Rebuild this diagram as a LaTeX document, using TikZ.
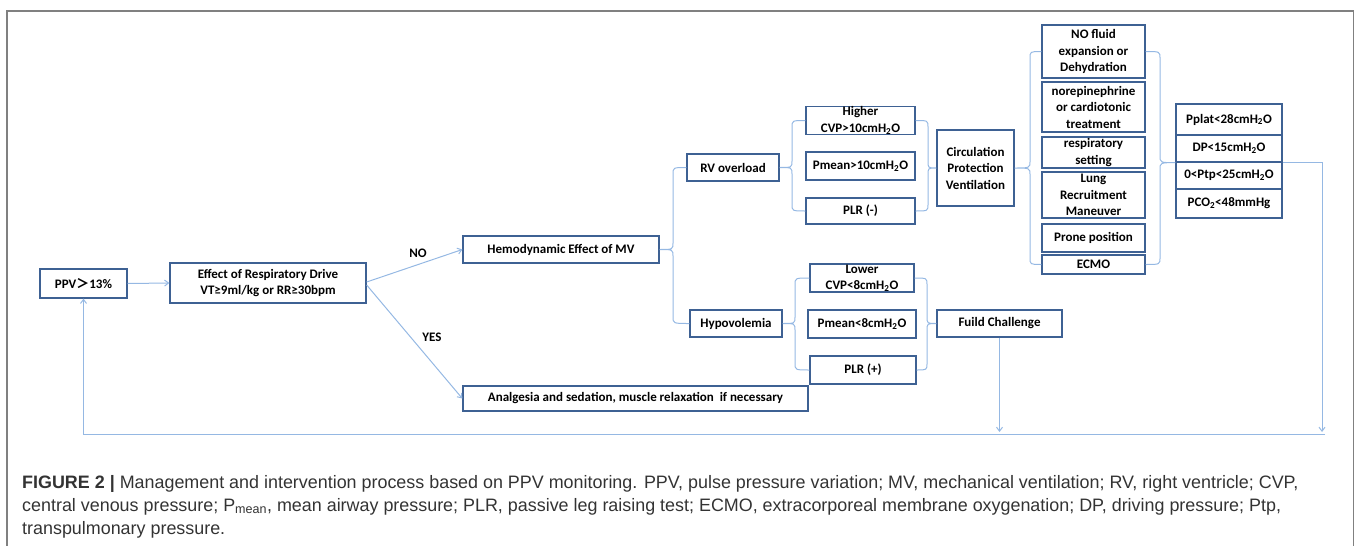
\documentclass[tikz,border=0pt]{standalone}
\usepackage{fontspec}
\setmainfont{Carlito}
\newfontfamily\capfont[FakeStretch=0.995]{Liberation Sans}
\newfontfamily\cjk{Noto Sans CJK SC}
\usetikzlibrary{arrows.meta,calc}
\definecolor{boxc}{HTML}{3E6193}
\definecolor{linkc}{HTML}{95B8E3}
\definecolor{framec}{HTML}{808080}
\definecolor{capc}{HTML}{333333}
\tikzset{
 box/.style={draw=boxc, line width=1.3pt, fill=white, align=center, font=\fontsize{13}{16.5}\selectfont\bfseries, inner sep=0pt},
 link/.style={draw=linkc, line width=1pt},
 arr/.style={link, -{Straight Barb[length=4pt,width=6pt]}},
 lbl/.style={font=\fontsize{13}{16}\selectfont\bfseries},
 captext/.style={anchor=base west, inner sep=0pt, text=capc, font=\fontsize{18}{23}\selectfont\capfont},
}
\newcommand\brc[4]{\draw[link] let \p1=(#1),\p2=(#2),\p3=(#3) in (\p2) .. controls (#4pt,\y2) .. (#4pt,\y2-7pt) -- (#4pt,\y1+7pt) .. controls (#4pt,\y1) .. (\p1) .. controls (#4pt,\y1) .. (#4pt,\y1-7pt) -- (#4pt,\y3+7pt) .. controls (#4pt,\y3) .. (\p3);}
\begin{document}
\begin{tikzpicture}[x=1pt,y=-1pt]
\useasboundingbox (0,0) rectangle (1357,546);
\draw[framec, line width=1.5pt] (7,546) -- (7,11) -- (1353.5,11) -- (1353.5,546);
% nodes
\node[box, minimum width=87pt, minimum height=29pt] (ppv) at (83.5,283.5) {PPV{\cjk ＞}13\%};
\node[box, minimum width=196pt, minimum height=40pt] (eff) at (268,283) {Effect of Respiratory Drive\\VT≥9ml/kg or RR≥30bpm};
\node[box, minimum width=196pt, minimum height=27pt] (hem) at (561,249.5) {Hemodynamic Effect of MV};
\node[box, minimum width=345pt, minimum height=25pt] (ana) at (635.5,398.5) {Analgesia and sedation, muscle relaxation\ \ if necessary};
\node[box, minimum width=92pt, minimum height=27pt] (rv) at (733,167.5) {RV overload};
\node[box, minimum width=92pt, minimum height=27pt] (hyp) at (736,323.5) {Hypovolemia};
\node[box, minimum width=109pt, minimum height=27pt] (hcvp) at (860.5,120.5) {Higher\\CVP>10cmH\textsubscript{2}O};
\node[box, minimum width=109pt, minimum height=28pt] (pm10) at (860.5,166) {Pmean>10cmH\textsubscript{2}O};
\node[box, minimum width=109pt, minimum height=26pt] (plrm) at (860.5,211) {PLR (-)};
\node[box, minimum width=104pt, minimum height=28pt] (lcvp) at (862,278) {Lower\\CVP<8cmH\textsubscript{2}O};
\node[box, minimum width=108pt, minimum height=28pt] (pm8) at (862,324) {Pmean<8cmH\textsubscript{2}O};
\node[box, minimum width=106pt, minimum height=28pt] (plrp) at (863,370) {PLR (+)};
\node[box, minimum width=77pt, minimum height=76pt] (circ) at (975.5,168) {Circulation\\Protection\\Ventilation};
\node[box, minimum width=125pt, minimum height=27pt] (fuild) at (999.5,323.5) {Fuild Challenge};
\node[box, minimum width=103pt, minimum height=53pt] (nof) at (1093.5,51.5) {NO fluid\\expansion or\\Dehydration};
\node[box, minimum width=103pt, minimum height=50pt] (nore) at (1093.5,107) {norepinephrine\\or cardiotonic\\treatment};
\node[box, minimum width=103pt, minimum height=31pt] (resp) at (1093.5,152.5) {respiratory\\setting};
\node[box, minimum width=103pt, minimum height=46pt] (lung) at (1093.5,195) {Lung\\Recruitment\\Maneuver};
\node[box, minimum width=103pt, minimum height=28pt] (prone) at (1093.5,238) {Prone position};
\node[box, minimum width=103pt, minimum height=19pt] (ecmo) at (1093.5,264.5) {ECMO};
\node[box, minimum width=106pt, minimum height=31pt] (pplat) at (1229,119.5) {Pplat<28cmH\textsubscript{2}O};
\node[box, minimum width=106pt, minimum height=27pt] (dp) at (1229,148.5) {DP<15cmH\textsubscript{2}O};
\node[box, minimum width=106pt, minimum height=27pt] (ptp) at (1229,175.5) {0<Ptp<25cmH\textsubscript{2}O};
\node[box, minimum width=106pt, minimum height=29pt] (pco) at (1229,203.5) {PCO\textsubscript{2}<48mmHg};
% labels
\node[lbl] (no) at (418,253) {NO};
\node[lbl] (yes) at (432,337) {YES};
% arrows
\draw[arr] (ppv.east) -- (eff.west);
\draw[arr] ([yshift=1pt]eff.east) -- (hem.west);
\draw[arr] ([yshift=-2pt]eff.east) -- (ana.west);
% braces
\brc{hem.east}{rv.west}{hyp.west}{673}
\brc{rv.east}{hcvp.west}{plrm.west}{792}
\brc{circ.west}{hcvp.east}{plrm.east}{928}
\brc{hyp.east}{lcvp.west}{plrp.west}{795}
\brc{fuild.west}{lcvp.east}{plrp.east}{927}
\brc{circ.east}{nof.west}{ecmo.west}{1030}
\brc{dp.south west}{nof.east}{ecmo.east}{1160}
% loop
\coordinate (br) at (1322,432);
\coordinate (bl) at (1325,434);
\draw[arr] (dp.south east) -- (dp.south east -| br) -- (br);
\draw[arr] (fuild.south) -- (fuild.south |- br);
\draw[arr] (bl) -- (ppv.south |- bl) -- (ppv.south);
% caption
\node[captext] (c1) at (22,488) {\textbf{FIGURE 2 |} Management and intervention process based on PPV monitoring. PPV, pulse pressure variation; MV, mechanical ventilation; RV, right ventricle; CVP,};
\node[captext] (c2) at (22,511) {central venous pressure; P\textsubscript{mean}, mean airway pressure; PLR, passive leg raising test; ECMO, extracorporeal membrane oxygenation; DP, driving pressure; Ptp,};
\node[captext] (c3) at (22,534) {transpulmonary pressure.};
\end{tikzpicture}
\end{document}
